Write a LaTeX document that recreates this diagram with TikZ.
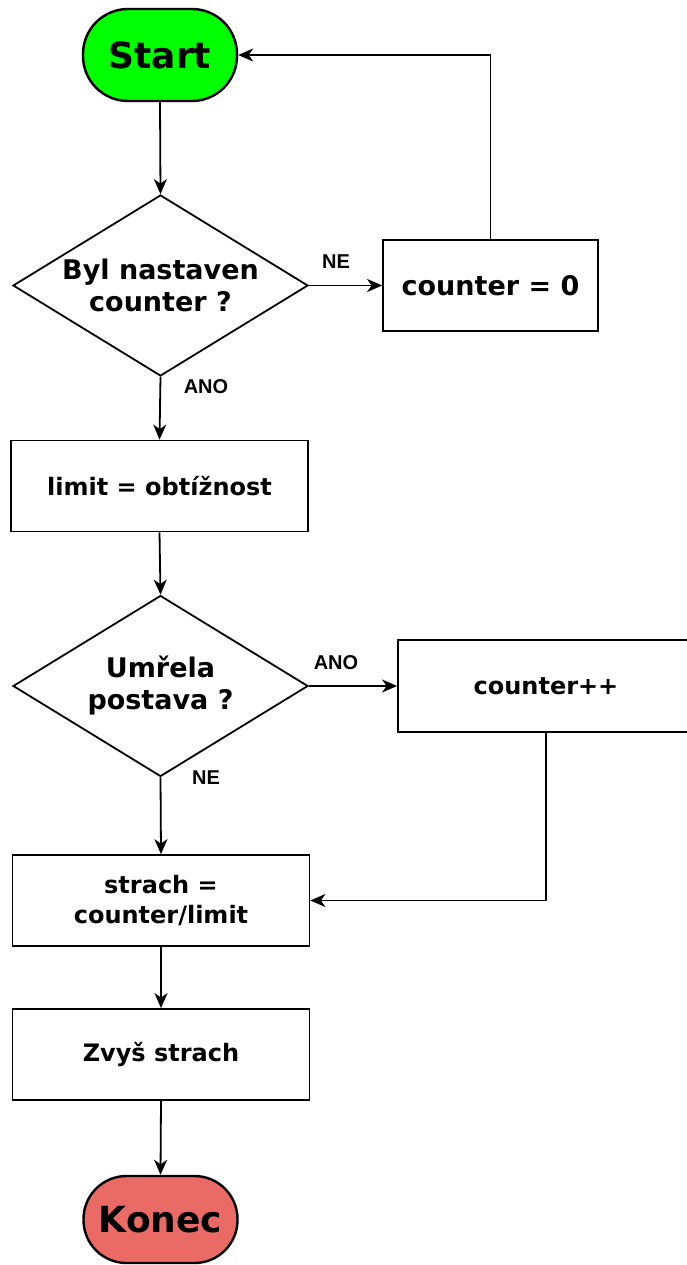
\documentclass[tikz,border=0pt]{standalone}
\usepackage{fontspec}
\setmainfont{DejaVu Sans}
\newfontfamily\labfont{Liberation Sans}
\usetikzlibrary{arrows.meta,shapes.geometric}
\definecolor{startgreen}{RGB}{0,255,0}
\definecolor{endred}{RGB}{234,107,102}
\tikzset{
  x=1pt, y=-1pt,
  line/.style={line width=1.8pt, draw=black},
  arr/.style={line, -{Stealth[length=15pt,width=13pt,inset=4.5pt]}},
  term/.style={line, line width=2.4pt, rectangle, rounded corners=45pt, minimum width=154pt, minimum height=92pt, inner sep=0pt, font=\bfseries\fontsize{36}{40}\selectfont},
  proc/.style={line, rectangle, minimum width=297pt, minimum height=91pt, inner sep=0pt, align=center, font=\bfseries\fontsize{24}{30}\selectfont},
  dia/.style={line, diamond, minimum width=295pt, minimum height=181pt, inner sep=0pt},
  diatext/.style={align=center, inner sep=0pt, font=\bfseries\fontsize{27}{32}\selectfont},
  lbl/.style={inner sep=0pt, font=\labfont\bfseries\fontsize{20}{22}\selectfont},
}
\begin{document}
\begin{tikzpicture}
\useasboundingbox (0,0) rectangle (686,1265);
\fill[white] (0,0) rectangle (686,1265);
% nodes
\node[term, fill=startgreen] (start) at (160,55) {Start};
\node[dia] (d1) at (160.5,285.5) {};
\node[diatext] (d1t) at (d1.center) {Byl nastaven\\counter ?};
\node[line, rectangle, minimum width=215pt, minimum height=91pt, inner sep=0pt, font=\bfseries\fontsize{27}{32}\selectfont] (c0) at (490.5,285.5) {counter = 0};
\node[proc] (lim) at (159.5,486) {limit = obtížnost};
\node[dia] (d2) at (160.5,686) {};
\node[diatext] (d2t) at (d2.center) {Umřela\\postava ?};
\node[line, rectangle, minimum width=296pt, minimum height=92pt, inner sep=0pt] (cpp) at (546,686) {};
\node[font=\bfseries\fontsize{24}{30}\selectfont, inner sep=0pt] (cppt) at (546,686) {counter++};
\node[proc] (str) at (161,900.5) {strach =\\counter/limit};
\node[proc] (zv) at (161,1054.5) {Zvyš strach};
\node[term, fill=endred, minimum height=87pt, rounded corners=43pt] (end) at (160.5,1219.5) {Konec};
% connectors
\draw[arr] (start.south) -- (d1.north);
\draw[arr] (d1.east) -- (c0.west);
\node[lbl] (lne1) at (336,262) {NE};
\draw[arr] (c0.north) |- (start.east);
\draw[arr] (d1.south) -- (lim.north);
\node[lbl] (lano1) at (206,387) {ANO};
\draw[arr] (lim.south) -- (d2.north);
\draw[arr] (d2.east) -- (cpp.west);
\node[lbl] (lano2) at (336,663) {ANO};
\draw[arr] (d2.south) -- (str.north);
\node[lbl] (lne2) at (206,778) {NE};
\draw[arr] (cpp.south) |- (str.east);
\draw[arr] (str.south) -- (zv.north);
\draw[arr] (zv.south) -- (end.north);
\end{tikzpicture}
\end{document}
